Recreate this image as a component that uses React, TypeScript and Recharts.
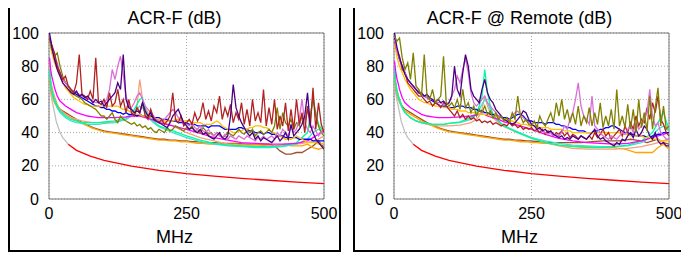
import { LineChart, Line, XAxis, YAxis, CartesianGrid, ReferenceArea } from 'recharts';

// frequency grids (MHz)
const FREQ_FINE = [1, ...Array.from({ length: 100 }, (_, i) => (i + 1) * 5)];
const FREQ_SMOOTH = [1, 3, 5, 8, 10, 15, 20, 30, 40, 50, 60, 70, 80, 90, 100, 120, 140, 150, 155, 160, 165, 170, 175, 180, 190, 200, 225, 250, 275, 300, 325, 350, 375, 400, 425, 450, 470, 480, 490, 500];
const FREQ_LOW = [1, 3, 5, 10, 15, 20, 30, 40, 50, 60, 70, 80, 90, 100, 110, 120, 130, 140, 150, 160, 170, 180, 190, 200, 210, 220, 230, 240, 250, 260, 270, 280, 290, 300, 320, 340, 360, 380, 400, 410, 420, 430, 440, 450, 460, 470, 480, 490, 500];
const FREQ_LIMIT = [35, 50, 75, 100, 150, 200, 250, 300, 350, 400, 450, 500];
const FREQ_GREY = [1, 3, 5, 7, 10, 13, 16, 20, 25, 30, 35];

const X_TICKS = [0, 250, 500];
const Y_TICKS = [0, 20, 40, 60, 80, 100];

// limit line
const limitRed = [33, 29.3, 25.8, 23.3, 19.8, 17.3, 15.3, 13.8, 12.4, 11.3, 10.2, 9.3];
const limitGrey = [72, 64, 60, 57, 52, 47, 44, 40, 37, 35, 33];

// ---- local end ----
const brownL = [75, 68, 64, 59, 56, 54,
  52, 50, 48, 46, 44.5, 43, 42, 41, 40.5, 40, 39.5, 39, 38.5, 38, 37.5, 37, 36.5, 36, 36, 35.5, 35.5, 35, 35, 34.5, 34.5, 34, 34, 34,
  33.5, 33.5, 33, 33, 33,
  32, 29, 27, 27, 28, 28, 30, 32, 35, 31];
const orangeL = [73, 67, 63, 58, 55, 53,
  51, 49, 47, 45.5, 44, 42.5, 41.5, 40.5, 40, 39.5, 39, 38.5, 38, 37.5, 37, 36.5, 36, 35.5, 35.5, 35, 35, 34.5, 34.5, 34, 33.5, 33.5, 33, 33,
  33, 33, 32.5, 32.5, 32,
  32, 32.5, 33, 32, 32, 32, 33, 31, 30, 31];
const magentaL = [85, 78, 74, 70, 67, 62, 59, 56, 54, 52, 51, 50, 49.5, 49, 49, 49, 49.5, 50, 50, 50, 50, 49.5, 49, 48.5, 47.5, 46, 44, 42, 39.5, 37, 35.5, 34, 33.5, 33, 33, 33.5, 35, 37, 39, 41];
const salmonL = [80, 72, 68, 64, 62, 57, 54, 51, 49, 48, 47, 46.5, 46, 46, 46, 46.5, 48, 50, 52, 56, 72, 60, 55, 52, 49, 47, 44, 40, 37, 35, 33, 32, 31.5, 31.5, 32, 33, 34, 35, 36, 38];
const springL = [78, 70, 66, 62, 60, 56, 53, 50, 48, 47, 46, 46, 46, 46, 46.5, 47, 49, 51, 54, 57, 60, 61, 54, 50, 47, 44, 41, 38, 35.5, 33.5, 32.5, 32, 31.5, 31.5, 32, 34, 40, 60, 45, 40];
const turquoiseL = [76, 69, 65, 61, 59, 55, 52, 49, 47, 46, 45.5, 45, 45, 45, 45.5, 46, 48, 50, 52, 54, 56, 55, 52, 49, 46, 43.5, 40, 37, 34.5, 33, 32, 31.5, 31, 31, 31.5, 33, 36, 40, 42, 40];
const firebrickL = [
  97, 93, 88, 80, 76, 72, 74, 68, 66, 64,
  70, 87, 63, 62, 60, 65, 60, 85, 58, 57,
  60, 55, 64, 56, 58, 66, 56, 60, 52, 60,
  52, 50, 55, 52, 58, 50, 48, 54, 49, 47,
  46, 48, 45, 47, 50, 64, 48, 46, 50, 44,
  46, 48, 45, 52, 47, 50, 58, 48, 53, 47,
  56, 52, 62, 48, 55, 50, 57, 46, 52, 48,
  58, 45, 54, 44, 60, 47, 52, 46, 66, 44,
  55, 45, 60, 42, 50, 44, 58, 41, 54, 42,
  60, 45, 52, 40, 56, 43, 67, 42, 58, 45,
  40];
const indigoL = [
  100, 92, 84, 78, 74, 70, 68, 66, 64, 63,
  65, 62, 63, 61, 62, 60, 58, 60, 58, 59,
  56, 58, 60, 62, 64, 70, 66, 87, 60, 55,
  54, 52, 53, 52, 58, 53, 50, 52, 48, 47,
  46, 45, 44, 43, 46, 50, 52, 54, 50, 46,
  44, 42, 43, 41, 40, 42, 39, 40, 38, 37,
  36, 38, 40, 37, 36, 38, 50, 69, 55, 50,
  46, 43, 40, 38, 40, 36, 38, 35, 37, 36,
  35, 34, 36, 38, 35, 37, 40, 36, 45, 38,
  40, 42, 45, 50, 64, 45, 40, 36, 34, 32,
  30];
const orchidL = [
  98, 92, 86, 82, 76, 72, 70, 68, 66, 65,
  64, 63, 62, 61, 60, 60, 59, 58, 58, 57,
  58, 60, 66, 78, 72, 80, 86, 75, 62, 56,
  55, 58, 62, 64, 60, 56, 54, 52, 50, 48,
  47, 46, 48, 50, 52, 54, 52, 49, 47, 46,
  45, 44, 46, 43, 42, 44, 41, 40, 42, 39,
  38, 40, 38, 37, 39, 36, 38, 37, 36, 38,
  37, 36, 38, 37, 36, 35, 37, 36, 38, 36,
  37, 38, 36, 40, 38, 42, 40, 38, 44, 40,
  42, 48, 60, 46, 42, 40, 44, 41, 38, 40,
  42];
const oliveL = [
  96, 90, 86, 88, 80, 74, 70, 68, 65, 63,
  62, 61, 60, 58, 57, 56, 55, 54, 52, 50,
  50, 48, 50, 52, 48, 46, 50, 48, 47, 46,
  45, 46, 44, 45, 43, 44, 42, 43, 41, 40,
  42, 41, 40, 43, 41, 42, 44, 43, 42, 41,
  43, 42, 44, 41, 42, 40, 43, 41, 39, 40,
  38, 40, 39, 37, 38, 40, 39, 38, 40, 42,
  40, 39, 41, 40, 42, 38, 40, 41, 39, 40,
  42, 40, 44, 55, 42, 52, 46, 44, 48, 42,
  46, 44, 50, 46, 54, 48, 62, 50, 44, 40,
  38];
const blueL = [
  97, 90, 85, 80, 76, 72, 70, 68, 66, 64,
  63, 62, 61, 60, 59, 58, 57, 56, 56, 55,
  55, 54, 54, 53, 53, 52, 52, 51, 52, 51,
  51, 51, 50, 51, 50, 50, 49, 50, 49, 49,
  49, 48, 48, 48, 47, 47, 47, 46, 46, 46,
  46, 45, 45, 45, 44, 44, 44, 44, 43, 44,
  44, 44, 44, 43, 42, 42, 42, 42, 42, 43,
  43, 42, 42, 41, 41, 40, 40, 40, 39, 40,
  40, 39, 39, 38, 38, 38, 37, 37, 37, 37,
  37, 36, 36, 36, 36, 36, 35, 35, 35, 35,
  35];
const goldL = [
  96, 88, 82, 78, 74, 70, 67, 65, 63, 61,
  60, 59, 58, 57, 57, 56, 56, 56, 56, 56,
  56, 56, 56, 56, 56, 56, 55, 54, 54, 53,
  52, 52, 51, 51, 50, 50, 50, 49, 49, 48,
  48, 48, 47, 47, 47, 47, 48, 48, 47, 47,
  47, 47, 46, 46, 46, 46, 45, 45, 45, 45,
  46, 47, 46, 44, 43, 42, 41, 40, 40, 41,
  41, 42, 42, 43, 43, 44, 44, 44, 43, 43,
  42, 40, 40, 38, 38, 37, 36, 36, 36, 37,
  38, 37, 36, 35, 34, 34, 34, 34, 33, 33,
  34];

// ---- remote end ----
const brownR = [75, 68, 64, 59, 56, 54,
  52, 50, 48, 46, 44.5, 43, 42, 41, 40.5, 40, 39.5, 39, 38.5, 38, 37.5, 37, 36.5, 36, 36, 35.5, 35.5, 35, 35, 34.5, 34.5, 34, 34, 34,
  34, 34, 34.5, 35, 35,
  35, 35.5, 36, 35.5, 35, 34, 35, 36, 34, 33];
const orangeR = [73, 67, 63, 58, 55, 53,
  51, 49, 47, 45.5, 44, 42.5, 41.5, 40.5, 40, 39.5, 39, 38.5, 38, 37.5, 37, 36.5, 36, 35.5, 35.5, 35, 34.5, 34.5, 34, 34, 33.5, 33.5, 33, 32.5,
  32, 31.5, 31.5, 31, 31,
  30.5, 30, 29, 28, 28, 28, 28, 31, 33, 30];
const magentaR = [83, 77, 73, 69, 66, 61, 58, 55, 53, 51, 50, 49.5, 49, 49, 49, 49.5, 50, 50.5, 51, 51, 51, 50, 49.5, 49, 48, 46.5, 44.5, 42, 39, 36.5, 35, 34, 33.5, 33, 33.5, 35, 37, 38, 39, 40];
const salmonR = [78, 70, 66, 62, 60, 55, 52, 49, 47, 46, 45, 44.5, 44, 44, 44, 44.5, 46, 48, 50, 54, 62, 56, 52, 49, 46, 43.5, 40, 37, 34, 32, 30.5, 30, 30, 30, 30.5, 31.5, 33, 34, 35, 36];
const springR = [80, 71, 66, 62, 60, 55, 52, 49, 47, 46, 45.5, 45, 45, 45, 45.5, 46.5, 49, 52, 56, 62, 78, 64, 56, 51, 47, 44, 40, 36.5, 34, 32.5, 31.5, 31, 31, 31.5, 32.5, 35, 40, 46, 52, 42];
const turquoiseR = [77, 69, 65, 61, 59, 55, 52, 49, 47, 46, 45.5, 45, 45, 45, 45.5, 46, 48, 51, 54, 57, 60, 58, 54, 50, 47, 44, 40.5, 37, 35, 33.5, 32.5, 32, 31.5, 31.5, 32, 34, 38, 42, 44, 41];
const oliveR = [
  98, 95, 97, 85, 78, 82, 72, 88, 68, 66,
  62, 87, 62, 60, 66, 58, 60, 62, 86, 58,
  56, 58, 55, 60, 54, 66, 55, 58, 52, 56,
  50, 54, 52, 56, 51, 53, 49, 52, 48, 50,
  47, 49, 46, 52, 48, 62, 50, 46, 48, 45,
  44, 47, 43, 50, 46, 44, 48, 52, 46, 58,
  50, 60, 48, 54, 46, 52, 45, 56, 44, 50,
  46, 55, 44, 52, 45, 58, 43, 50, 44, 54,
  42, 66, 44, 50, 43, 57, 42, 54, 40, 60,
  43, 52, 41, 62, 42, 55, 67, 44, 56, 42,
  44];
const firebrickR = [
  95, 90, 86, 78, 76, 70, 68, 66, 64, 62,
  62, 60, 58, 59, 56, 58, 57, 55, 58, 56,
  54, 52, 50, 53, 49, 51, 48, 50, 48, 49,
  47, 48, 46, 47, 46, 47, 45, 46, 45, 44,
  45, 44, 46, 44, 45, 43, 44, 42, 43, 42,
  43, 41, 42, 40, 42, 39, 41, 40, 38, 40,
  39, 41, 38, 40, 37, 39, 38, 36, 38, 37,
  36, 38, 36, 40, 37, 39, 42, 38, 40, 36,
  38, 40, 42, 38, 44, 40, 46, 42, 50, 44,
  48, 46, 55, 48, 58, 52, 62, 48, 45, 40,
  38];
const indigoR = [
  100, 92, 85, 80, 75, 72, 70, 68, 66, 64,
  64, 62, 63, 61, 60, 58, 60, 58, 59, 57,
  58, 62, 80, 66, 62, 76, 87, 80, 66, 62,
  60, 58, 66, 72, 64, 60, 58, 54, 52, 50,
  48, 47, 46, 45, 46, 48, 50, 53, 52, 48,
  45, 44, 42, 43, 41, 42, 40, 41, 39, 38,
  37, 38, 36, 37, 36, 38, 37, 36, 38, 37,
  36, 38, 40, 42, 38, 36, 37, 35, 34, 33,
  32, 34, 33, 36, 35, 38, 40, 37, 42, 38,
  40, 44, 42, 38, 36, 40, 35, 33, 34, 32,
  32];
const orchidR = [
  96, 90, 84, 80, 76, 72, 70, 68, 66, 65,
  63, 62, 61, 60, 60, 59, 58, 58, 57, 57,
  58, 62, 66, 74, 70, 78, 85, 76, 64, 58,
  56, 58, 60, 62, 58, 56, 54, 52, 50, 49,
  48, 47, 48, 50, 52, 53, 51, 49, 47, 46,
  45, 44, 43, 42, 41, 40, 39, 40, 38, 39,
  38, 40, 44, 42, 48, 52, 60, 70, 56, 50,
  48, 45, 62, 44, 42, 40, 38, 37, 36, 38,
  37, 36, 38, 40, 39, 42, 44, 40, 46, 42,
  44, 48, 52, 66, 50, 44, 46, 40, 38, 36,
  36];
const blueR = [
  97, 90, 84, 80, 76, 72, 70, 68, 66, 64,
  63, 62, 61, 60, 59, 58, 57, 56, 56, 56,
  55, 55, 55, 56, 56, 56, 55, 55, 55, 54,
  54, 53, 53, 52, 52, 51, 51, 50, 50, 49,
  49, 49, 48, 49, 50, 51, 51, 50, 48, 47,
  47, 46, 46, 46, 46, 45, 46, 46, 46, 45,
  45, 44, 44, 43, 43, 42, 42, 41, 41, 41,
  40, 40, 40, 41, 41, 42, 42, 43, 43, 44,
  44, 43, 42, 41, 40, 40, 39, 39, 38, 38,
  38, 38, 37, 37, 38, 38, 39, 39, 40, 40,
  40];
const goldR = [
  94, 86, 80, 76, 72, 69, 66, 64, 62, 60,
  59, 58, 58, 57, 57, 56, 56, 56, 55, 55,
  55, 54, 54, 54, 53, 53, 53, 52, 52, 52,
  52, 51, 51, 51, 51, 50, 50, 50, 49, 49,
  48, 48, 47, 47, 46, 46, 45, 45, 45, 44,
  44, 44, 44, 43, 43, 43, 43, 42, 42, 42,
  42, 42, 41, 41, 41, 40, 40, 40, 40, 40,
  40, 40, 40, 40, 40, 40, 40, 40, 40, 40,
  40, 40, 40, 39, 39, 39, 38, 38, 38, 38,
  38, 37, 37, 37, 36, 36, 36, 35, 35, 35,
  35];

type Series = { name: string; color: string; f: number[]; v: number[] };

const pts = (f: number[], v: number[]) => f.map((x, i) => ({ f: x, v: v[i] }));

const localSeries: Series[] = [
  { name: 'limitGrey', color: '#c0c0c0', f: FREQ_GREY, v: limitGrey },
  { name: 'limit', color: '#ff0000', f: FREQ_LIMIT, v: limitRed },
  { name: 'brown', color: '#a0522d', f: FREQ_LOW, v: brownL },
  { name: 'orange', color: '#ffa500', f: FREQ_LOW, v: orangeL },
  { name: 'salmon', color: '#f4a07a', f: FREQ_SMOOTH, v: salmonL },
  { name: 'turquoise', color: '#40e0d0', f: FREQ_SMOOTH, v: turquoiseL },
  { name: 'spring', color: '#00fa9a', f: FREQ_SMOOTH, v: springL },
  { name: 'magenta', color: '#ff00ff', f: FREQ_SMOOTH, v: magentaL },
  { name: 'blue', color: '#0000ff', f: FREQ_FINE, v: blueL },
  { name: 'gold', color: '#ffc000', f: FREQ_FINE, v: goldL },
  { name: 'olive', color: '#808000', f: FREQ_FINE, v: oliveL },
  { name: 'orchid', color: '#da70d6', f: FREQ_FINE, v: orchidL },
  { name: 'firebrick', color: '#b22222', f: FREQ_FINE, v: firebrickL },
  { name: 'indigo', color: '#4b0082', f: FREQ_FINE, v: indigoL },
];

const remoteSeries: Series[] = [
  { name: 'limitGrey', color: '#c0c0c0', f: FREQ_GREY, v: limitGrey },
  { name: 'limit', color: '#ff0000', f: FREQ_LIMIT, v: limitRed },
  { name: 'brown', color: '#a0522d', f: FREQ_LOW, v: brownR },
  { name: 'orange', color: '#ffa500', f: FREQ_LOW, v: orangeR },
  { name: 'salmon', color: '#f4a07a', f: FREQ_SMOOTH, v: salmonR },
  { name: 'turquoise', color: '#40e0d0', f: FREQ_SMOOTH, v: turquoiseR },
  { name: 'spring', color: '#00fa9a', f: FREQ_SMOOTH, v: springR },
  { name: 'magenta', color: '#ff00ff', f: FREQ_SMOOTH, v: magentaR },
  { name: 'blue', color: '#0000ff', f: FREQ_FINE, v: blueR },
  { name: 'gold', color: '#ffc000', f: FREQ_FINE, v: goldR },
  { name: 'firebrick', color: '#b22222', f: FREQ_FINE, v: firebrickR },
  { name: 'orchid', color: '#da70d6', f: FREQ_FINE, v: orchidR },
  { name: 'indigo', color: '#4b0082', f: FREQ_FINE, v: indigoR },
  { name: 'olive', color: '#808000', f: FREQ_FINE, v: oliveR },
];

const Panel = ({ title, series, left }: { title: string; series: Series[]; left: number }) => (
  <div style={{ position: 'absolute', left, top: -5, width: 329, height: 245, border: '2px solid #000', background: '#fff' }}>
    <div style={{ position: 'absolute', top: 4, left: 0, width: '100%', textAlign: 'center', fontSize: 18, lineHeight: '18px' }}>
      {title}
    </div>
    <LineChart width={329} height={245} margin={{ top: 28, right: 15, left: 0, bottom: 0 }}>
      <CartesianGrid stroke="#aaa" strokeDasharray="1 2" />
      <XAxis
        type="number"
        dataKey="f"
        domain={[0, 500]}
        ticks={X_TICKS}
        interval={0}
        allowDataOverflow
        axisLine={false}
        tickLine={false}
        tickSize={0}
        tickMargin={9}
        height={51}
        tick={{ fill: '#000', fontSize: 16 }}
      />
      <YAxis
        type="number"
        domain={[0, 100]}
        ticks={Y_TICKS}
        interval={0}
        allowDataOverflow
        axisLine={false}
        tickLine={false}
        tickSize={0}
        tickMargin={10}
        width={39}
        tick={{ fill: '#000', fontSize: 16 }}
      />
      <ReferenceArea x1={0} x2={500} y1={0} y2={100} fill="none" stroke="#777" strokeWidth={1} />
      {series.map((s) => (
        <Line
          key={s.name}
          data={pts(s.f, s.v)}
          dataKey="v"
          stroke={s.color}
          strokeWidth={1.3}
          dot={false}
          activeDot={false}
          isAnimationActive={false}
        />
      ))}
    </LineChart>
    <div style={{ position: 'absolute', top: 223, left: 0, width: '100%', textAlign: 'center', fontSize: 18, lineHeight: '18px' }}>
      MHz
    </div>
  </div>
);

export default function App() {
  return (
    <div style={{ position: 'relative', width: 681, height: 249, fontFamily: '"Liberation Sans", Arial, sans-serif' }}>
      <Panel title="ACR-F (dB)" series={localSeries} left={0} />
      <Panel title="ACR-F @ Remote (dB)" series={remoteSeries} left={345} />
    </div>
  );
}
